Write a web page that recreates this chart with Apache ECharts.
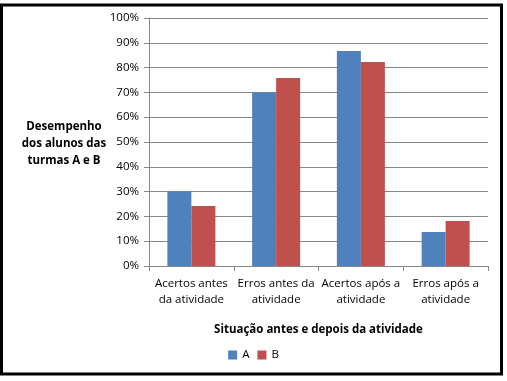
<!DOCTYPE html>
<html><head><meta charset="utf-8">
<script src="https://cdn.jsdelivr.net/npm/echarts@6/dist/echarts.min.js"></script>
<style>html,body{margin:0;padding:0;background:#fff}#c{width:507px;height:381px}</style>
</head><body><div id="c"></div>
<script>
const categories = ['Acertos antes\nda atividade', 'Erros antes da\natividade', 'Acertos após a\natividade', 'Erros após a\natividade'];
const seriesA = [30, 70, 86.7, 13.7];
const seriesB = [24.2, 75.8, 82.3, 18.1];
const yTicks = [0, 10, 20, 30, 40, 50, 60, 70, 80, 90, 100];
const font = 'Open Sans';
const chart = echarts.init(document.getElementById('c'));
chart.setOption({
  animation: false,
  textStyle: { fontFamily: font },
  graphic: [
    { type: 'rect', shape: { x: 1.5, y: 5, width: 500, height: 369 }, style: { fill: 'none', stroke: '#000', lineWidth: 3 } },
    { type: 'text', x: 64, y: 118, style: { text: 'Desempenho\ndos alunos das\nturmas A e B', font: 'bold 11.5px "Open Sans"', fill: '#000', align: 'center', lineHeight: 17 } }
  ],
  grid: { left: 149, right: 19, top: 18, bottom: 115, containLabel: false },
  legend: {
    data: ['A', 'B'], bottom: 15, left: 'center', itemWidth: 9, itemHeight: 9, itemGap: 8,
    icon: 'rect', textStyle: { fontSize: 11.5, fontFamily: font, color: '#000' }
  },
  xAxis: {
    type: 'category', data: categories,
    name: 'Situação antes e depois da atividade', nameLocation: 'middle', nameGap: 58,
    nameTextStyle: { fontWeight: 'bold', fontSize: 11.5, fontFamily: font, color: '#000' },
    axisLine: { lineStyle: { color: '#868686' } },
    axisTick: { show: true, length: 5, lineStyle: { color: '#868686' } },
    axisLabel: { fontSize: 11.5, color: '#000', lineHeight: 16, margin: 10, interval: 0 }
  },
  yAxis: {
    type: 'value', min: 0, max: 100, interval: 10,
    axisLine: { show: true, lineStyle: { color: '#868686' } },
    axisTick: { show: true, length: 5, lineStyle: { color: '#868686' } },
    splitLine: { lineStyle: { color: '#868686' } },
    axisLabel: { fontSize: 11.5, color: '#000', margin: 10, formatter: v => yTicks.includes(v) ? v + '%' : '' }
  },
  series: [
    { name: 'A', type: 'bar', data: seriesA, barWidth: 24, barGap: '0%', itemStyle: { color: '#4F81BD' } },
    { name: 'B', type: 'bar', data: seriesB, barWidth: 24, itemStyle: { color: '#C0504D' } }
  ]
});
</script></body></html>
